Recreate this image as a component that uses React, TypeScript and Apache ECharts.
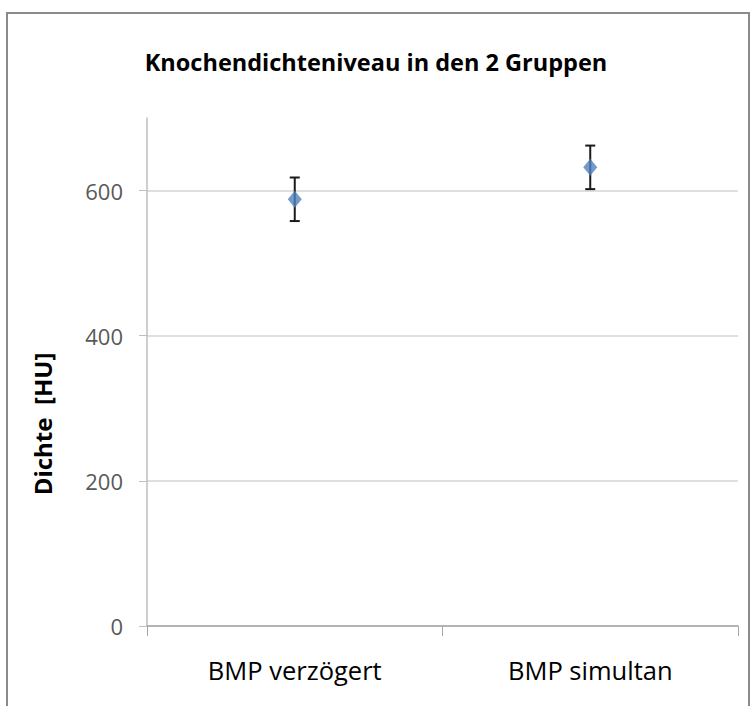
import React, { useEffect, useRef } from 'react';
import * as echarts from 'echarts';

const categories = ['BMP verzögert', 'BMP simultan'];
const means = [588, 632];
const errors = [30, 30];
const yTicks = [0, 200, 400, 600];
const yMax = 700;
const title = 'Knochendichteniveau in den 2 Gruppen';
const yName = 'Dichte  [HU]';

export default function App() {
  const ref = useRef<HTMLDivElement>(null);
  useEffect(() => {
    document.body.style.margin = '0';
    const chart = echarts.init(ref.current!, null, { renderer: 'svg' });
    const errData = means.map((m, i) => [i, m - errors[i], m + errors[i]]);
    chart.setOption({
      animation: false,
      backgroundColor: '#ffffff',
      textStyle: { fontFamily: 'Open Sans' },
      title: {
        text: title,
        left: 'center',
        top: 45,
        textStyle: { fontFamily: 'Open Sans', fontWeight: 'bold', fontSize: 23.5, color: '#000' },
      },
      graphic: [
        {
          type: 'rect',
          shape: { x: 7, y: 13, width: 742, height: 720 },
          style: { fill: 'none', stroke: '#8a8a8a', lineWidth: 2 },
          silent: true,
        },
        {
          type: 'text',
          x: 42,
          y: 424,
          rotation: Math.PI / 2,
          silent: true,
          style: {
            text: yName,
            fontFamily: 'Open Sans',
            fontWeight: 'bold',
            fontSize: 24,
            fill: '#000',
            align: 'center',
            verticalAlign: 'middle',
          },
        },
      ],
      grid: { left: 147, right: 14, top: 118, bottom: 80 },
      xAxis: {
        type: 'category',
        data: categories,
        boundaryGap: true,
        axisLine: { lineStyle: { color: '#a6a6a6', width: 1.5 } },
        axisTick: { show: true, length: 10, lineStyle: { color: '#a6a6a6' } },
        axisLabel: { fontFamily: 'Open Sans', fontSize: 25.5, color: '#000', margin: 31 },
        splitLine: { show: false },
      },
      yAxis: {
        type: 'value',
        min: 0,
        max: yMax,
        axisLine: { show: true, lineStyle: { color: '#bfbfbf', width: 1.5 } },
        axisTick: { show: true, length: 8, customValues: yTicks, lineStyle: { color: '#bfbfbf' } },
        axisLabel: { fontFamily: 'Open Sans', fontSize: 22, color: '#595959', margin: 24, customValues: yTicks },
        splitLine: { show: true, lineStyle: { color: '#d4d4d4', width: 1.5 } },
      },
      series: [
        {
          type: 'custom',
          data: errData,
          encode: { x: 0, y: [1, 2] },
          z: 2,
          renderItem: (params: any, api: any) => {
            const x = api.value(0);
            const lo = api.coord([x, api.value(1)]);
            const hi = api.coord([x, api.value(2)]);
            const hw = 5;
            const st = { stroke: '#1a1a1a', lineWidth: 2 };
            return {
              type: 'group',
              children: [
                { type: 'line', shape: { x1: lo[0], y1: lo[1], x2: hi[0], y2: hi[1] }, style: st },
                { type: 'line', shape: { x1: lo[0] - hw, y1: lo[1], x2: lo[0] + hw, y2: lo[1] }, style: st },
                { type: 'line', shape: { x1: hi[0] - hw, y1: hi[1], x2: hi[0] + hw, y2: hi[1] }, style: st },
              ],
            };
          },
        },
        {
          type: 'scatter',
          data: means,
          symbol: 'diamond',
          symbolSize: [14, 17],
          z: 3,
          itemStyle: { color: '#4f81bd' },
        },
      ],
    });
    return () => chart.dispose();
  }, []);
  return <div ref={ref} style={{ width: 752, height: 706 }} />;
}
